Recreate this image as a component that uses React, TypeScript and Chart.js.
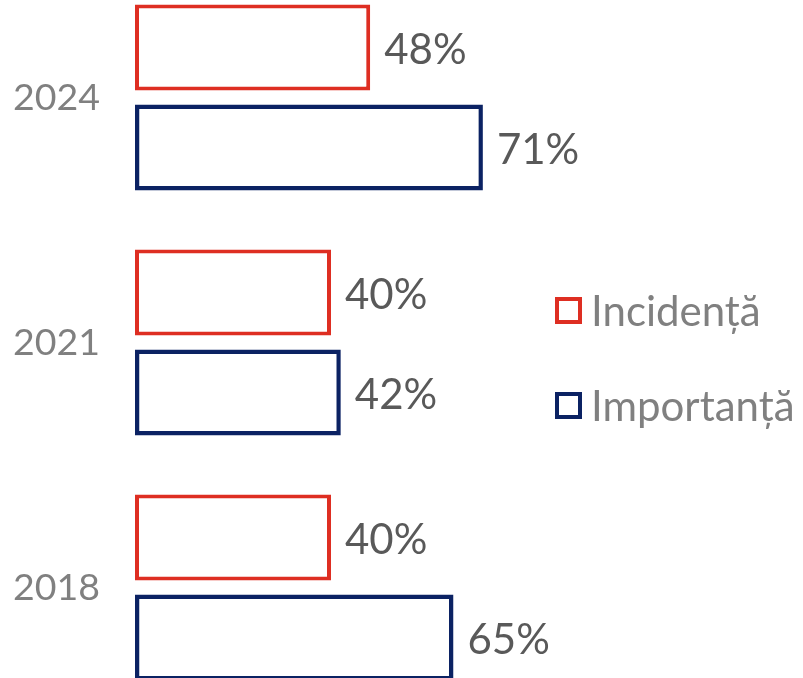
import React, { useEffect, useRef } from "react";
import { Chart, registerables } from "chart.js";

Chart.register(...registerables);

const categories = ["2024", "2021", "2018"];
const seriesNames = ["Incidență", "Importanță"];
const incidenta = [48, 40, 40];
const importanta = [71, 42, 65];
const seriesColors = ["#DE2E22", "#0B2263"];

const FONT = "Lato, 'Noto Sans', sans-serif";

const valueLabels = {
  id: "valueLabels",
  afterDatasetsDraw(chart: any) {
    const ctx = chart.ctx;
    ctx.save();
    ctx.font = `42px ${FONT}`;
    ctx.fillStyle = "#595959";
    ctx.textAlign = "left";
    ctx.textBaseline = "middle";
    chart.data.datasets.forEach((ds: any, di: number) => {
      const meta = chart.getDatasetMeta(di);
      meta.data.forEach((el: any, i: number) => {
        ctx.fillText(`${ds.data[i]}%`, el.x + 14, el.y + 3);
      });
    });
    ctx.restore();
  },
};

export default function App() {
  const ref = useRef<HTMLCanvasElement>(null);
  useEffect(() => {
    if (!ref.current) return;
    const chart = new Chart(ref.current, {
      type: "bar",
      data: {
        labels: categories,
        datasets: [
          {
            label: seriesNames[0],
            data: incidenta,
            backgroundColor: "#ffffff",
            borderColor: seriesColors[0],
            borderWidth: 4,
            borderSkipped: false,
          },
          {
            label: seriesNames[1],
            data: importanta,
            backgroundColor: "#ffffff",
            borderColor: seriesColors[1],
            borderWidth: 4.5,
            borderSkipped: false,
          },
        ],
      },
      options: {
        indexAxis: "y",
        animation: false,
        responsive: false,
        maintainAspectRatio: false,
        layout: { padding: { left: 0, right: 178, top: 0, bottom: 0 } },
        datasets: {
          bar: { barPercentage: 0.86, categoryPercentage: 0.816 },
        },
        plugins: {
          legend: { display: false },
          tooltip: { enabled: false },
        },
        scales: {
          x: { display: false, min: 0, max: 100 },
          y: {
            grid: { display: false, drawTicks: false },
            border: { display: false },
            ticks: {
              padding: 35,
              color: "#808080",
              font: { family: FONT, size: 37.5 },
            },
            afterFit(scale: any) {
              scale.width = 135;
              scale.paddingTop = 0;
              scale.paddingBottom = 0;
            },
          },
        },
      },
      plugins: [valueLabels],
    } as any);
    return () => chart.destroy();
  }, []);

  return (
    <div
      style={{
        position: "absolute",
        left: 0,
        top: 0,
        width: 803,
        height: 678,
        overflow: "hidden",
        background: "#ffffff",
      }}
    >
      <canvas
        ref={ref}
        width={803}
        height={735}
        style={{ position: "absolute", left: 0, top: -25, width: 803, height: 735 }}
      />
      {seriesNames.map((name, i) => (
        <div
          key={name}
          style={{
            position: "absolute",
            left: 555,
            top: 285 + i * 95,
            height: 50,
            display: "flex",
            alignItems: "center",
            fontFamily: FONT,
            fontSize: 42,
            color: "#808080",
            whiteSpace: "nowrap",
          }}
        >
          <span
            style={{
              display: "inline-block",
              width: 27,
              height: 27,
              boxSizing: "border-box",
              border: `4.5px solid ${seriesColors[i]}`,
              marginRight: 9,
            }}
          />
          <span>{name}</span>
        </div>
      ))}
    </div>
  );
}
